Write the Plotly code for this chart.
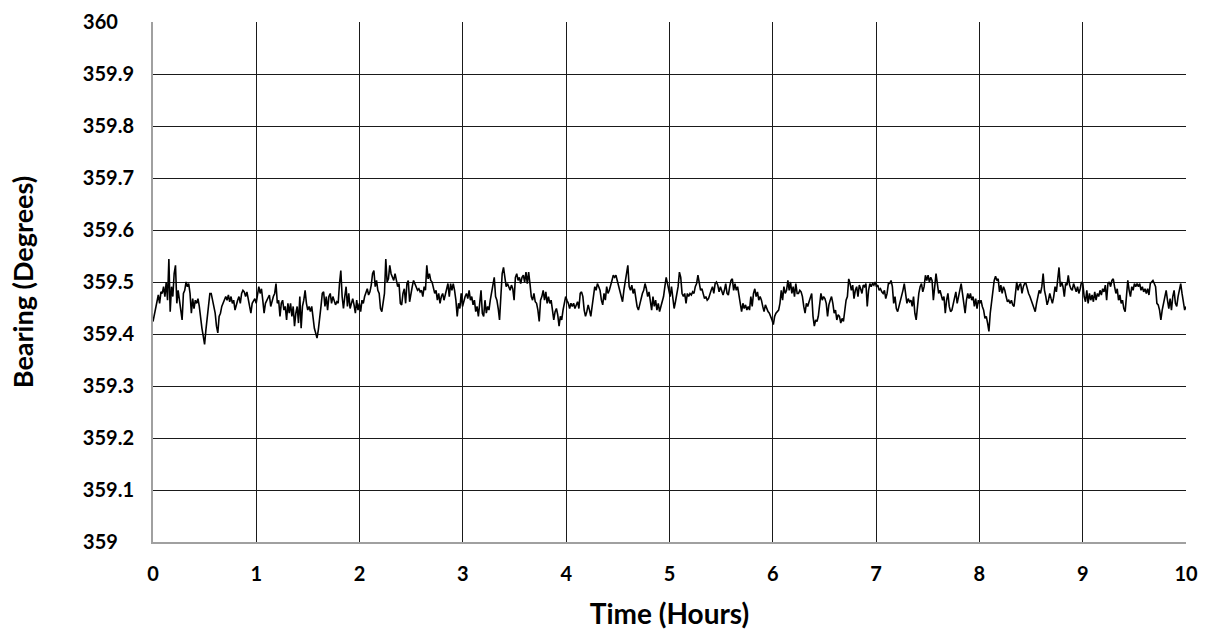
import numpy as np
import plotly.graph_objects as go

# Bearing readings (degrees), in time order
bearing_seg01 = [359.424,359.437,359.453,359.465,359.475,359.459,359.481,359.478,359.491,359.472,359.500,359.465,359.544,359.443,359.491,359.472,359.516,359.532,359.459,359.484,359.465,359.449,359.427,359.478,359.484,359.500,359.491,359.497,359.478,359.440,359.468,359.449,359.465,359.459,359.468,359.453,359.427,359.411,359.396,359.380,359.408,359.434,359.459,359.478,359.478,359.465,359.456,359.440,359.415,359.402,359.434,359.440,359.453,359.459,359.465,359.472,359.465,359.475,359.462,359.472,359.459,359.465,359.446,359.459,359.465,359.472,359.459,359.478,359.484,359.481]
bearing_seg02 = [359.472,359.481,359.465,359.449,359.440,359.459,359.465,359.468,359.459,359.472,359.491,359.478,359.487,359.465,359.440,359.459,359.465,359.472,359.475,359.453,359.465,359.472,359.478,359.497,359.459,359.465,359.434,359.459,359.465,359.446,359.453,359.427,359.459,359.440,359.459,359.434,359.453,359.415,359.440,359.453,359.421,359.472,359.411,359.453,359.465,359.484,359.459,359.446,359.453,359.443,359.453,359.424,359.411,359.402,359.392,359.408,359.427,359.453,359.478,359.481,359.453,359.472,359.446,359.472,359.478,359.459,359.472,359.465,359.456,359.462]
bearing_seg03 = [359.459,359.497,359.522,359.472,359.449,359.472,359.491,359.453,359.478,359.449,359.462,359.468,359.456,359.440,359.465,359.446,359.459,359.443,359.465,359.459,359.472,359.478,359.487,359.475,359.481,359.494,359.516,359.522,359.491,359.503,359.484,359.478,359.449,359.443,359.459,359.478,359.544,359.500,359.506,359.532,359.516,359.509,359.503,359.516,359.506,359.491,359.497,359.459,359.456,359.478,359.487,359.459,359.497,359.503,359.462,359.481,359.491,359.503,359.497,359.491,359.484,359.487,359.481,359.484,359.472,359.491,359.484,359.532,359.506,359.516,359.503]
bearing_seg04 = [359.500,359.491,359.478,359.484,359.465,359.478,359.459,359.472,359.478,359.465,359.475,359.484,359.497,359.472,359.497,359.484,359.497,359.484,359.465,359.434,359.459,359.449,359.478,359.453,359.465,359.472,359.478,359.468,359.484,359.465,359.472,359.456,359.465,359.443,359.453,359.434,359.459,359.484,359.440,359.434,359.465,359.440,359.453,359.446,359.465,359.478,359.491,359.509,359.472,359.465,359.449,359.427,359.472,359.516,359.528,359.509,359.491,359.497,359.491,359.484,359.494,359.487,359.465,359.509,359.516,359.503,359.509,359.497,359.509]
bearing_seg05 = [359.513,359.500,359.519,359.497,359.519,359.497,359.472,359.465,359.478,359.462,359.459,359.446,359.424,359.465,359.472,359.484,359.465,359.481,359.459,359.472,359.459,359.465,359.443,359.427,359.443,359.449,359.437,359.415,359.434,359.427,359.446,359.459,359.472,359.465,359.459,359.449,359.459,359.453,359.459,359.449,359.456,359.462,359.449,359.478,359.481,359.472,359.446,359.434,359.443,359.456,359.446,359.434,359.453,359.472,359.491,359.484,359.497,359.491,359.484,359.465,359.456,359.478,359.465,359.491,359.478,359.484,359.497,359.503,359.513]
bearing_seg06 = [359.509,359.513,359.503,359.491,359.478,359.468,359.462,359.484,359.503,359.516,359.532,359.491,359.484,359.494,359.478,359.487,359.465,359.453,359.446,359.459,359.465,359.478,359.484,359.497,359.487,359.472,359.481,359.465,359.446,359.472,359.453,359.465,359.446,359.459,359.443,359.453,359.465,359.472,359.491,359.509,359.497,359.484,359.472,359.491,359.465,359.449,359.462,359.478,359.491,359.519,359.509,359.478,359.472,359.478,359.459,359.478,359.472,359.478,359.475,359.481,359.478,359.491,359.497,359.513,359.497,359.484,359.487,359.478,359.468]
bearing_seg07 = [359.472,359.465,359.468,359.478,359.484,359.491,359.478,359.497,359.500,359.494,359.481,359.491,359.484,359.475,359.484,359.497,359.478,359.475,359.491,359.503,359.506,359.484,359.497,359.484,359.491,359.478,359.459,359.443,359.459,359.449,359.456,359.446,359.453,359.446,359.472,359.453,359.478,359.487,359.472,359.481,359.465,359.472,359.465,359.453,359.443,359.456,359.449,359.443,359.440,359.434,359.427,359.418,359.434,359.440,359.443,359.446,359.459,359.484,359.465,359.491,359.478,359.484,359.503,359.484,359.500,359.478,359.491,359.472,359.497,359.478]
bearing_seg08 = [359.478,359.484,359.481,359.472,359.453,359.440,359.459,359.453,359.462,359.472,359.478,359.434,359.415,359.427,359.424,359.434,359.456,359.478,359.465,359.472,359.468,359.459,359.434,359.456,359.465,359.472,359.459,359.440,359.446,359.427,359.437,359.434,359.421,359.430,359.424,359.443,359.465,359.472,359.506,359.497,359.484,359.494,359.468,359.484,359.491,359.472,359.494,359.487,359.478,359.494,359.491,359.497,359.453,359.484,359.497,359.491,359.497,359.494,359.500,359.491,359.494,359.484,359.487,359.481,359.478,359.484,359.468,359.478,359.497]
bearing_seg09 = [359.497,359.503,359.491,359.459,359.472,359.449,359.443,359.453,359.459,359.472,359.484,359.497,359.478,359.459,359.468,359.462,359.465,359.453,359.472,359.440,359.427,359.459,359.478,359.491,359.497,359.481,359.491,359.513,359.503,359.513,359.500,359.509,359.503,359.465,359.497,359.516,359.497,359.478,359.484,359.472,359.465,359.472,359.440,359.465,359.478,359.453,359.443,359.446,359.459,359.472,359.481,359.459,359.472,359.491,359.497,359.478,359.462,359.440,359.465,359.478,359.468,359.478,359.465,359.472,359.453,359.468,359.449,359.465,359.459]
bearing_seg10 = [359.465,359.453,359.446,359.430,359.434,359.421,359.405,359.440,359.459,359.481,359.503,359.511,359.503,359.506,359.481,359.494,359.478,359.491,359.484,359.472,359.462,359.465,359.459,359.465,359.456,359.453,359.484,359.500,359.484,359.494,359.497,359.478,359.491,359.497,359.497,359.484,359.478,359.472,359.465,359.459,359.449,359.443,359.459,359.475,359.484,359.478,359.491,359.516,359.484,359.472,359.456,359.465,359.478,359.468,359.459,359.472,359.491,359.481,359.503,359.528,359.491,359.500,359.491,359.472,359.497,359.494,359.513,359.494,359.487,359.484]
bearing_seg11 = [359.497,359.487,359.481,359.491,359.478,359.487,359.500,359.497,359.472,359.462,359.484,359.459,359.478,359.465,359.475,359.462,359.481,359.465,359.478,359.472,359.484,359.475,359.487,359.481,359.494,359.465,359.497,359.500,359.491,359.503,359.506,359.491,359.478,359.487,359.465,359.475,359.459,359.465,359.449,359.443,359.478,359.503,359.484,359.472,359.491,359.484,359.497,359.491,359.497,359.491,359.497,359.484,359.491,359.481,359.487,359.478,359.487,359.475,359.497,359.500,359.503,359.497,359.491,359.459,359.456,359.446,359.427,359.446,359.459,359.472,359.484,359.465,359.449,359.468,359.446,359.472,359.484,359.459,359.453,359.472,359.484,359.497,359.478,359.465,359.446,359.453]

bearing = (bearing_seg01 + bearing_seg02 + bearing_seg03 + bearing_seg04 + bearing_seg05 +
           bearing_seg06 + bearing_seg07 + bearing_seg08 + bearing_seg09 + bearing_seg10 + bearing_seg11)

# readings are evenly sampled across the 10 hour record
t_start_hours = 0.0
t_end_hours = 10.0
time_hours = np.linspace(t_start_hours, t_end_hours, len(bearing))

x_tick_vals = [0, 1, 2, 3, 4, 5, 6, 7, 8, 9, 10]
x_tick_text = ["0", "1", "2", "3", "4", "5", "6", "7", "8", "9", "10"]
y_tick_vals = [359.0, 359.1, 359.2, 359.3, 359.4, 359.5, 359.6, 359.7, 359.8, 359.9, 360.0]
y_tick_text = ["359", "359.1", "359.2", "359.3", "359.4", "359.5", "359.6", "359.7", "359.8", "359.9", "360"]

# labels are left-aligned in the reference: pad short labels with a punctuation space + figure space
y_tick_text_aligned = [t if "." in t else t + "\u2008\u2007" for t in y_tick_text]

FONT = "Lato, 'Open Sans', sans-serif"

fig = go.Figure()
fig.add_trace(go.Scatter(x=time_hours, y=bearing, mode="lines",
                         line=dict(color="black", width=1.6), showlegend=False,
                         hoverinfo="x+y"))

fig.update_layout(
    width=1206, height=632,
    margin=dict(l=153, r=20, t=22, b=90),
    paper_bgcolor="white", plot_bgcolor="white",
    font=dict(family=FONT, color="black"),
    xaxis=dict(range=[0, 10], tickvals=x_tick_vals, ticktext=x_tick_text,
               automargin=False,
               showgrid=True, gridcolor="#1a1a1a", gridwidth=1,
               showline=True, linecolor="#a0a0a0", linewidth=2,
               zeroline=False, ticks="", ticklabelstandoff=13,
               tickfont=dict(family=FONT, size=20, color="black", weight="bold"),
               title=dict(text="<b>Time (Hours)</b>", standoff=20,
                          font=dict(family=FONT, size=28, color="black"))),
    yaxis=dict(range=[359, 360], tickvals=y_tick_vals, ticktext=y_tick_text_aligned,
               automargin=False,
               showgrid=True, gridcolor="#1a1a1a", gridwidth=1,
               showline=True, linecolor="#a0a0a0", linewidth=2,
               zeroline=False, ticks="", ticklabelstandoff=13,
               tickfont=dict(family=FONT, size=20, color="black", weight="bold"),
               title=dict(text="<b>Bearing (Degrees)</b>", standoff=41,
                          font=dict(family=FONT, size=27, color="black"))),
)

# remove the default 8px page margin so the figure sits at the window's top-left corner
fig.write_html("out.html",
               config={"displayModeBar": False},
               post_script="document.body.style.margin='0';document.body.style.padding='0';")
